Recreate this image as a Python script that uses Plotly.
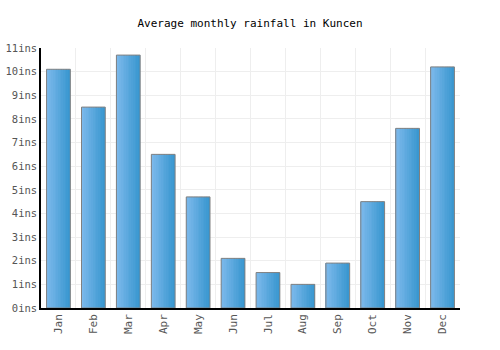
import plotly.graph_objects as go

months = ["Jan", "Feb", "Mar", "Apr", "May", "Jun", "Jul", "Aug", "Sep", "Oct", "Nov", "Dec"]
rainfall = [10.1, 8.5, 10.7, 6.5, 4.7, 2.1, 1.5, 1.0, 1.9, 4.5, 7.6, 10.2]
ytick_vals = list(range(0, 12))
ytick_text = [f"{v}ins" for v in ytick_vals]

idx = list(range(len(months)))
font = "DejaVu Sans Mono"
bar_w = 0.68

# horizontal gradient approximated with thin slices
c0 = (0x7c, 0xb9, 0xeb)
c1 = (0x3a, 0x97, 0xd0)
n = 14
fig = go.Figure()
for k in range(n):
    t = k / (n - 1)
    col = "rgb(%d,%d,%d)" % tuple(round(a + (b - a) * t) for a, b in zip(c0, c1))
    sw = bar_w / n
    fig.add_trace(go.Bar(
        x=idx, y=rainfall, width=sw * 1.02, offset=-bar_w / 2 + k * sw,
        marker=dict(color=col, line=dict(width=0)), hoverinfo="skip",
    ))
fig.add_trace(go.Bar(
    x=idx, y=rainfall, width=bar_w, offset=-bar_w / 2,
    marker=dict(color="rgba(0,0,0,0)", line=dict(color="#808080", width=1)),
))
fig.update_layout(
    width=500, height=350,
    margin=dict(l=41, r=40, t=48, b=42),
    paper_bgcolor="white", plot_bgcolor="white",
    showlegend=False, barmode="overlay",
    title=dict(text="Average monthly rainfall in Kuncen", x=0.5, xanchor="center",
               y=1 - 23 / 350, yanchor="middle",
               font=dict(family=font, size=11, color="#000")),
    xaxis=dict(range=[-0.5, 11.5], tickmode="array", tickvals=idx, ticktext=months,
               tickangle=-90, showgrid=False, showline=True, linecolor="#000", linewidth=1.5,
               ticks="", tickfont=dict(family=font, size=11, color="#555"), automargin=False,
               minor=dict(tickmode="array", tickvals=[i + 0.5 for i in idx], showgrid=True,
                          gridcolor="#eeeeee", gridwidth=1, ticks=""),
               zeroline=False, fixedrange=True),
    yaxis=dict(range=[0, 11], tickmode="array", tickvals=ytick_vals, ticktext=ytick_text,
               showgrid=True, gridcolor="#eeeeee", gridwidth=1, showline=True,
               linecolor="#000", linewidth=1.5, ticks="", zeroline=False, automargin=False,
               tickfont=dict(family=font, size=10.5, color="#555"), fixedrange=True),
)
fig.write_html("out.html")
